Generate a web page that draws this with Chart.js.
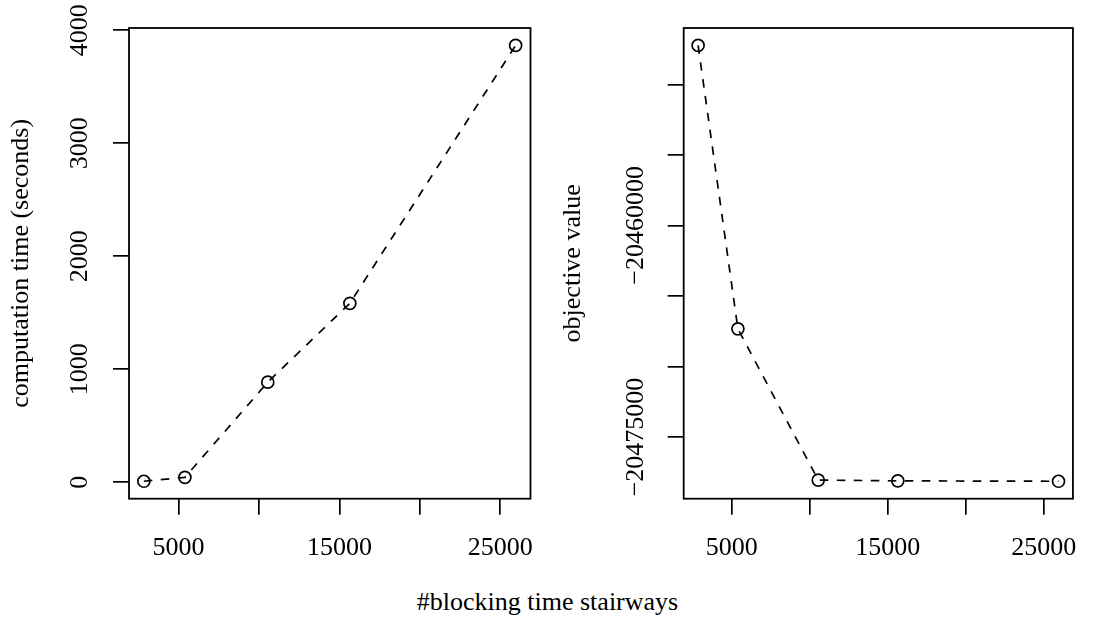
<!DOCTYPE html>
<html>
<head>
<meta charset="utf-8">
<script src="https://cdn.jsdelivr.net/npm/chart.js@4.4.1/dist/chart.umd.min.js"></script>
<style>
  html, body { margin: 0; padding: 0; background: #ffffff; }
  #wrap { position: relative; width: 1095px; height: 619px; overflow: hidden; background: #fff; }
  .panel { position: absolute; top: 0; height: 570px; }
  #p1 { left: 0; width: 560px; }
  #p2 { left: 555px; width: 540px; }
  #xtitle { position: absolute; left: 0; width: 1095px; top: 589px; text-align: center;
            font-family: 'Liberation Serif', 'Times New Roman', serif; font-size: 26px; line-height: 26px; color: #000; }
</style>
</head>
<body>
<div id="wrap">
  <div class="panel" id="p1"><canvas id="c1"></canvas></div>
  <div class="panel" id="p2"><canvas id="c2"></canvas></div>
  <div id="xtitle">#blocking time stairways</div>
</div>
<script>
// ---- data ----
const stairways = [2850, 5400, 10550, 15650, 25950];
const compTime = [8, 43, 885, 1583, 3865];
const objValue = [-20447238, -20467330, -20478053, -20478109, -20478137];

const xTicks = [5000, 10000, 15000, 20000, 25000];
const xTickLabels = ['5000', '', '15000', '', '25000'];
const compTicks = [0, 1000, 2000, 3000, 4000];
const compTickLabels = ['0', '1000', '2000', '3000', '4000'];
const objTicks = [-20450000, -20455000, -20460000, -20465000, -20470000, -20475000];
const objTickLabels = ['', '', '\u221220460000', '', '', '\u221220475000'];

const yTitleLeft = 'computation time (seconds)';
const yTitleRight = 'objective value';

// ---- helpers ----
const FONT = "'Liberation Serif', 'Times New Roman', serif";
const FS = 26;
Chart.defaults.font.family = FONT;
Chart.defaults.font.size = FS;
Chart.defaults.color = '#000';

function rRange(vals) {           // R's default 4% axis extension
  const mn = Math.min(...vals), mx = Math.max(...vals), d = mx - mn;
  return [mn - 0.04 * d, mx + 0.04 * d];
}

const boxPlugin = {
  id: 'box',
  afterDraw(chart) {
    const a = chart.chartArea, ctx = chart.ctx;
    ctx.save();
    ctx.strokeStyle = '#000';
    ctx.lineWidth = 1.8;
    ctx.strokeRect(a.left, a.top, a.right - a.left, a.bottom - a.top);
    ctx.restore();
  }
};

function makePanel(canvasId, yVals, yTicks, yLabels, yTitle, cfg) {
  const xr = rRange(stairways), yr = rRange(yVals);
  const pts = stairways.map((x, i) => ({ x: x, y: yVals[i] }));
  return new Chart(document.getElementById(canvasId), {
    type: 'line',
    data: {
      datasets: [{
        data: pts,
        borderColor: '#000',
        borderWidth: 1.7,
        borderDash: [8.5, 8.5],
        tension: 0,
        fill: false,
        pointStyle: 'circle',
        pointRadius: 6,
        pointHoverRadius: 6,
        pointBorderWidth: 1.7,
        pointBorderColor: '#000',
        pointBackgroundColor: 'rgba(0,0,0,0)',
        clip: 20
      }]
    },
    options: {
      responsive: true,
      maintainAspectRatio: false,
      animation: false,
      devicePixelRatio: 1,
      layout: { padding: { top: 28, right: cfg.padRight, left: 0, bottom: 0 } },
      plugins: { legend: { display: false }, tooltip: { enabled: false } },
      events: [],
      scales: {
        x: {
          type: 'linear',
          min: xr[0], max: xr[1],
          afterBuildTicks: s => { s.ticks = xTicks.map(v => ({ value: v })); },
          afterFit: s => { s.height = cfg.xHeight; },
          border: { display: false },
          grid: { display: true, drawOnChartArea: false, drawTicks: true, tickLength: 16,
                  color: '#000', lineWidth: 1.7, tickColor: '#000' },
          ticks: {
            autoSkip: false, maxRotation: 0, minRotation: 0, includeBounds: false,
            padding: cfg.xPad, color: '#000', font: { size: FS, family: FONT },
            callback: v => { const i = xTicks.indexOf(v); return i >= 0 ? xTickLabels[i] : ''; }
          }
        },
        y: {
          type: 'linear',
          min: yr[0], max: yr[1],
          afterBuildTicks: s => { s.ticks = yTicks.map(v => ({ value: v })); },
          afterFit: s => { s.width = cfg.yWidth; },
          border: { display: false },
          grid: { display: true, drawOnChartArea: false, drawTicks: true, tickLength: 16,
                  color: '#000', lineWidth: 1.7, tickColor: '#000' },
          title: { display: true, text: yTitle, color: '#000', font: { size: FS, family: FONT },
                   padding: { top: cfg.titlePad, bottom: 0 } },
          ticks: {
            autoSkip: false, minRotation: 90, maxRotation: 90, crossAlign: 'center', includeBounds: false,
            padding: cfg.yPad, color: '#000', font: { size: FS, family: FONT },
            callback: v => { const i = yTicks.indexOf(v); return i >= 0 ? yLabels[i] : ''; }
          }
        }
      }
    },
    plugins: [boxPlugin]
  });
}

makePanel('c1', compTime, compTicks, compTickLabels, yTitleLeft,
  { padRight: 29.5, xHeight: 71.3, yWidth: 129, xPad: 18, yPad: 7, titlePad: 5.6 });
makePanel('c2', objValue, objTicks, objTickLabels, yTitleRight,
  { padRight: 10.7, xHeight: 71.3, yWidth: 128.7, xPad: 18, yPad: -28.3, titlePad: 2.1 });
</script>
</body>
</html>
